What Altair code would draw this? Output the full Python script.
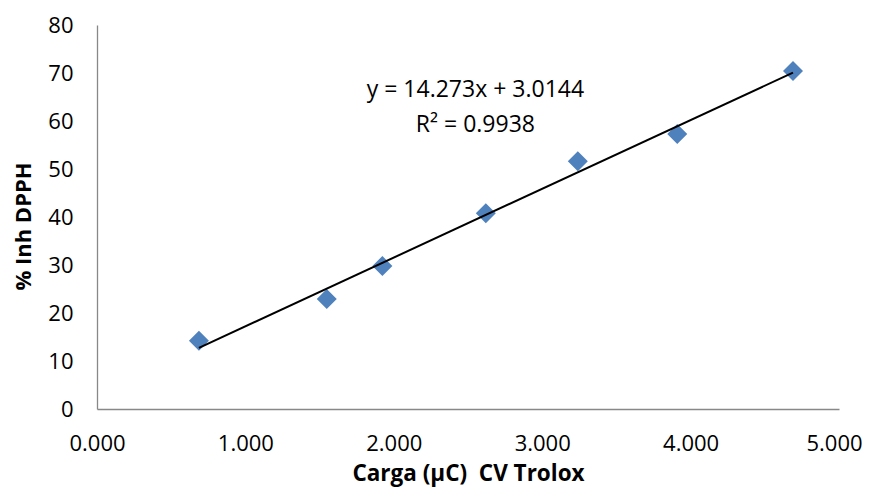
import altair as alt
import pandas as pd

# Data
carga = [0.687, 1.548, 1.923, 2.620, 3.240, 3.910, 4.690]
inh = [14.2, 22.9, 29.8, 40.8, 51.6, 57.3, 70.4]

eq_text = ["y = 14.273x + 3.0144", "R\u00b2 = 0.9938"]
eq_x = [2.55, 2.55]
eq_y = [66.5, 59.2]

FONT = "Open Sans"

df = pd.DataFrame({"x": carga, "y": inh})
df_eq = pd.DataFrame({"x": eq_x, "y": eq_y, "t": eq_text})

xscale = alt.Scale(domain=[0, 5], nice=False, zero=True)
yscale = alt.Scale(domain=[0, 80], nice=False)

xaxis = alt.Axis(
    values=[0, 1, 2, 3, 4, 5], format=".3f", grid=False, ticks=False, tickSize=0,
    domainColor="#888888", domainWidth=1.3, labelFont=FONT, labelFontSize=22,
    labelColor="#000000", labelPadding=24, title="Carga (\u00b5C)\u00a0 CV Trolox",
    titleFont=FONT, titleFontSize=22.5, titleFontWeight="bold", titleColor="#000000",
    titlePadding=8, labelFlush=False,
    labelOffset={"condition": {"test": "datum.value >= 5", "value": -5}, "value": 0},
)
yaxis = alt.Axis(
    values=[0, 10, 20, 30, 40, 50, 60, 70, 80], grid=False, ticks=False, tickSize=0,
    domainColor="#888888", domainWidth=1.3, labelFont=FONT, labelFontSize=22,
    labelColor="#000000", labelPadding=24, title="% Inh DPPH",
    titleFont=FONT, titleFontSize=22, titleFontWeight="bold", titleColor="#000000",
    titlePadding=12, titleY=201, labelFlush=False,
)

base = alt.Chart(df)

points = base.mark_point(shape="diamond", filled=True, size=400, color="#4F81BD", opacity=1).encode(
    x=alt.X("x:Q", scale=xscale, axis=xaxis),
    y=alt.Y("y:Q", scale=yscale, axis=yaxis),
)

trend = base.transform_regression("x", "y", method="linear").mark_line(
    color="#000000", strokeWidth=2
).encode(
    x=alt.X("x:Q", scale=xscale),
    y=alt.Y("y:Q", scale=yscale),
)

eq = alt.Chart(df_eq).mark_text(font=FONT, fontSize=23, color="#000000", baseline="middle", align="center").encode(
    x=alt.X("x:Q", scale=xscale),
    y=alt.Y("y:Q", scale=yscale),
    text="t:N",
)

chart = alt.layer(points, trend, eq).properties(
    width=742, height=384,
    padding={"left": 89, "top": 17, "right": 25, "bottom": 81},
    autosize=alt.AutoSizeParams(type="none"),
    background="#ffffff",
).configure_view(stroke=None)

chart.save("out.html", embed_options={"renderer": "svg", "actions": False})
